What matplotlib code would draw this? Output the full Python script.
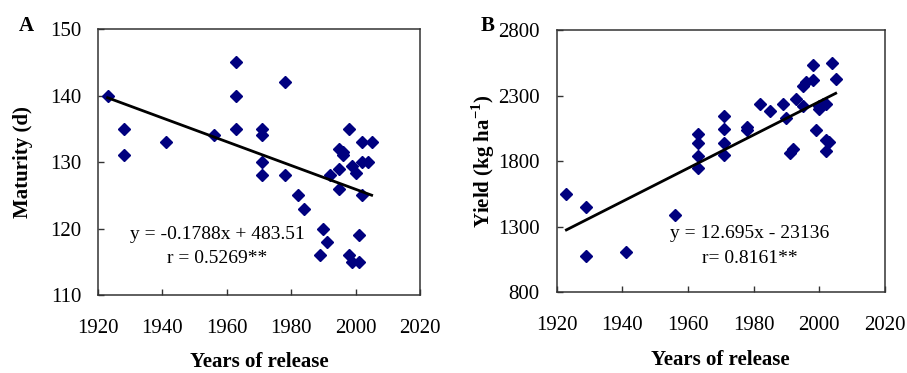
import numpy as np
import matplotlib
matplotlib.use("Agg")
import matplotlib.pyplot as plt

plt.rcParams['font.family'] = ['Liberation Serif', 'DejaVu Serif']
plt.rcParams['mathtext.fontset'] = 'custom'
plt.rcParams['mathtext.rm'] = 'Liberation Serif'
plt.rcParams['mathtext.bf'] = 'Liberation Serif:bold'

# Panel A: maturity (d) vs year of release
years_a = [1923, 1928, 1928, 1941, 1956, 1963, 1963, 1963, 1971, 1971, 1971, 1971,
           1978, 1978, 1982, 1984, 1990, 1991, 1989, 1992, 1995, 1996, 1996, 1995,
           1995, 1998, 1999, 2000, 2002, 2005, 2002, 2004, 2002, 2001, 1998, 1999, 2001]
maturity = [140, 135, 131, 133, 134, 145, 140, 135, 135, 134, 130, 128,
            142, 128, 125, 123, 120, 118, 116, 128, 132, 131.5, 131, 129,
            126, 135, 129.4, 128.3, 133, 133, 130, 130, 125, 119, 116, 115, 115]
slope_a, icept_a = -0.1788, 483.51

# Panel B: yield (kg/ha) vs year of release
years_b = [1923, 1929, 1929, 1941, 1956, 1963, 1963, 1963, 1963, 1971, 1971, 1971, 1971,
           1978, 1978, 1982, 1985, 1989, 1990, 1991, 1992, 1993, 1995, 1996, 1998, 1998,
           1995, 2000, 1999, 2001, 2002, 2002, 2003, 2002, 2004, 2005, 2000]
yields = [1550, 1450, 1080, 1110, 1390, 2010, 1940, 1840, 1750, 2145, 2045, 1935, 1850,
          2060, 2040, 2235, 2185, 2235, 2130, 1860, 1895, 2275, 2375, 2405, 2420, 2535,
          2220, 2200, 2035, 2235, 2235, 1960, 1950, 1875, 2550, 2430, 2220]
slope_b, icept_b = 12.695, -23136

navy = '#00007f'
fs = 15
eq_fs = 14

fig = plt.figure(figsize=(9.07, 3.73), dpi=100)
ax1 = fig.add_axes([0.108, 0.209, 0.355, 0.713])
ax2 = fig.add_axes([0.6136, 0.216, 0.3621, 0.7036])


def style_axes(ax):
    for sp in ax.spines.values():
        sp.set_color('#333333')
        sp.set_linewidth(1.1)
    ax.tick_params(direction='in', length=4, width=1.0, color='#333333',
                   labelsize=fs)
    ax.tick_params(axis='x', pad=17)
    ax.tick_params(axis='y', pad=12)
    ax.set_xlim(1920, 2020)
    ax.set_xticks(np.arange(1920, 2021, 20))


# A
ax1.plot(years_a, maturity, 'D', color=navy, ms=6.5, mec=navy)
xa = np.array([min(years_a), max(years_a)])
ax1.plot(xa, slope_a * xa + icept_a, color='black', lw=2)
ax1.set_ylim(110, 150)
ax1.set_yticks(np.arange(110, 151, 10))
style_axes(ax1)
ax1.set_xlabel('Years of release', fontsize=fs, fontweight='bold', labelpad=10.5)
ax1.set_ylabel('Maturity (d)', fontsize=fs, fontweight='bold', labelpad=12)
ax1.text(0.37, 0.229, 'y = -0.1788x + 483.51', transform=ax1.transAxes,
         ha='center', va='center', fontsize=eq_fs)
ax1.text(0.37, 0.139, 'r = 0.5269**', transform=ax1.transAxes,
         ha='center', va='center', fontsize=eq_fs)
fig.text(0.029, 0.93, 'A', fontsize=fs, fontweight='bold', ha='center', va='center')

# B
ax2.plot(years_b, yields, 'D', color=navy, ms=6.5, mec=navy)
xb = np.array([min(years_b), max(years_b)])
ax2.plot(xb, slope_b * xb + icept_b, color='black', lw=2)
ax2.set_ylim(800, 2800)
ax2.set_yticks(np.arange(800, 2801, 500))
style_axes(ax2)
ax2.set_xlabel('Years of release', fontsize=fs, fontweight='bold', labelpad=10.5)
ax2.set_ylabel(r'Yield (kg ha$^{\mathbf{-1}}$)', fontsize=fs, fontweight='bold', labelpad=1)
ax2.text(0.589, 0.223, 'y = 12.695x - 23136', transform=ax2.transAxes,
         ha='center', va='center', fontsize=eq_fs)
ax2.text(0.589, 0.131, 'r= 0.8161**', transform=ax2.transAxes,
         ha='center', va='center', fontsize=eq_fs)
fig.text(0.538, 0.93, 'B', fontsize=fs, fontweight='bold', ha='center', va='center')

fig.savefig('out.png', dpi=100)
